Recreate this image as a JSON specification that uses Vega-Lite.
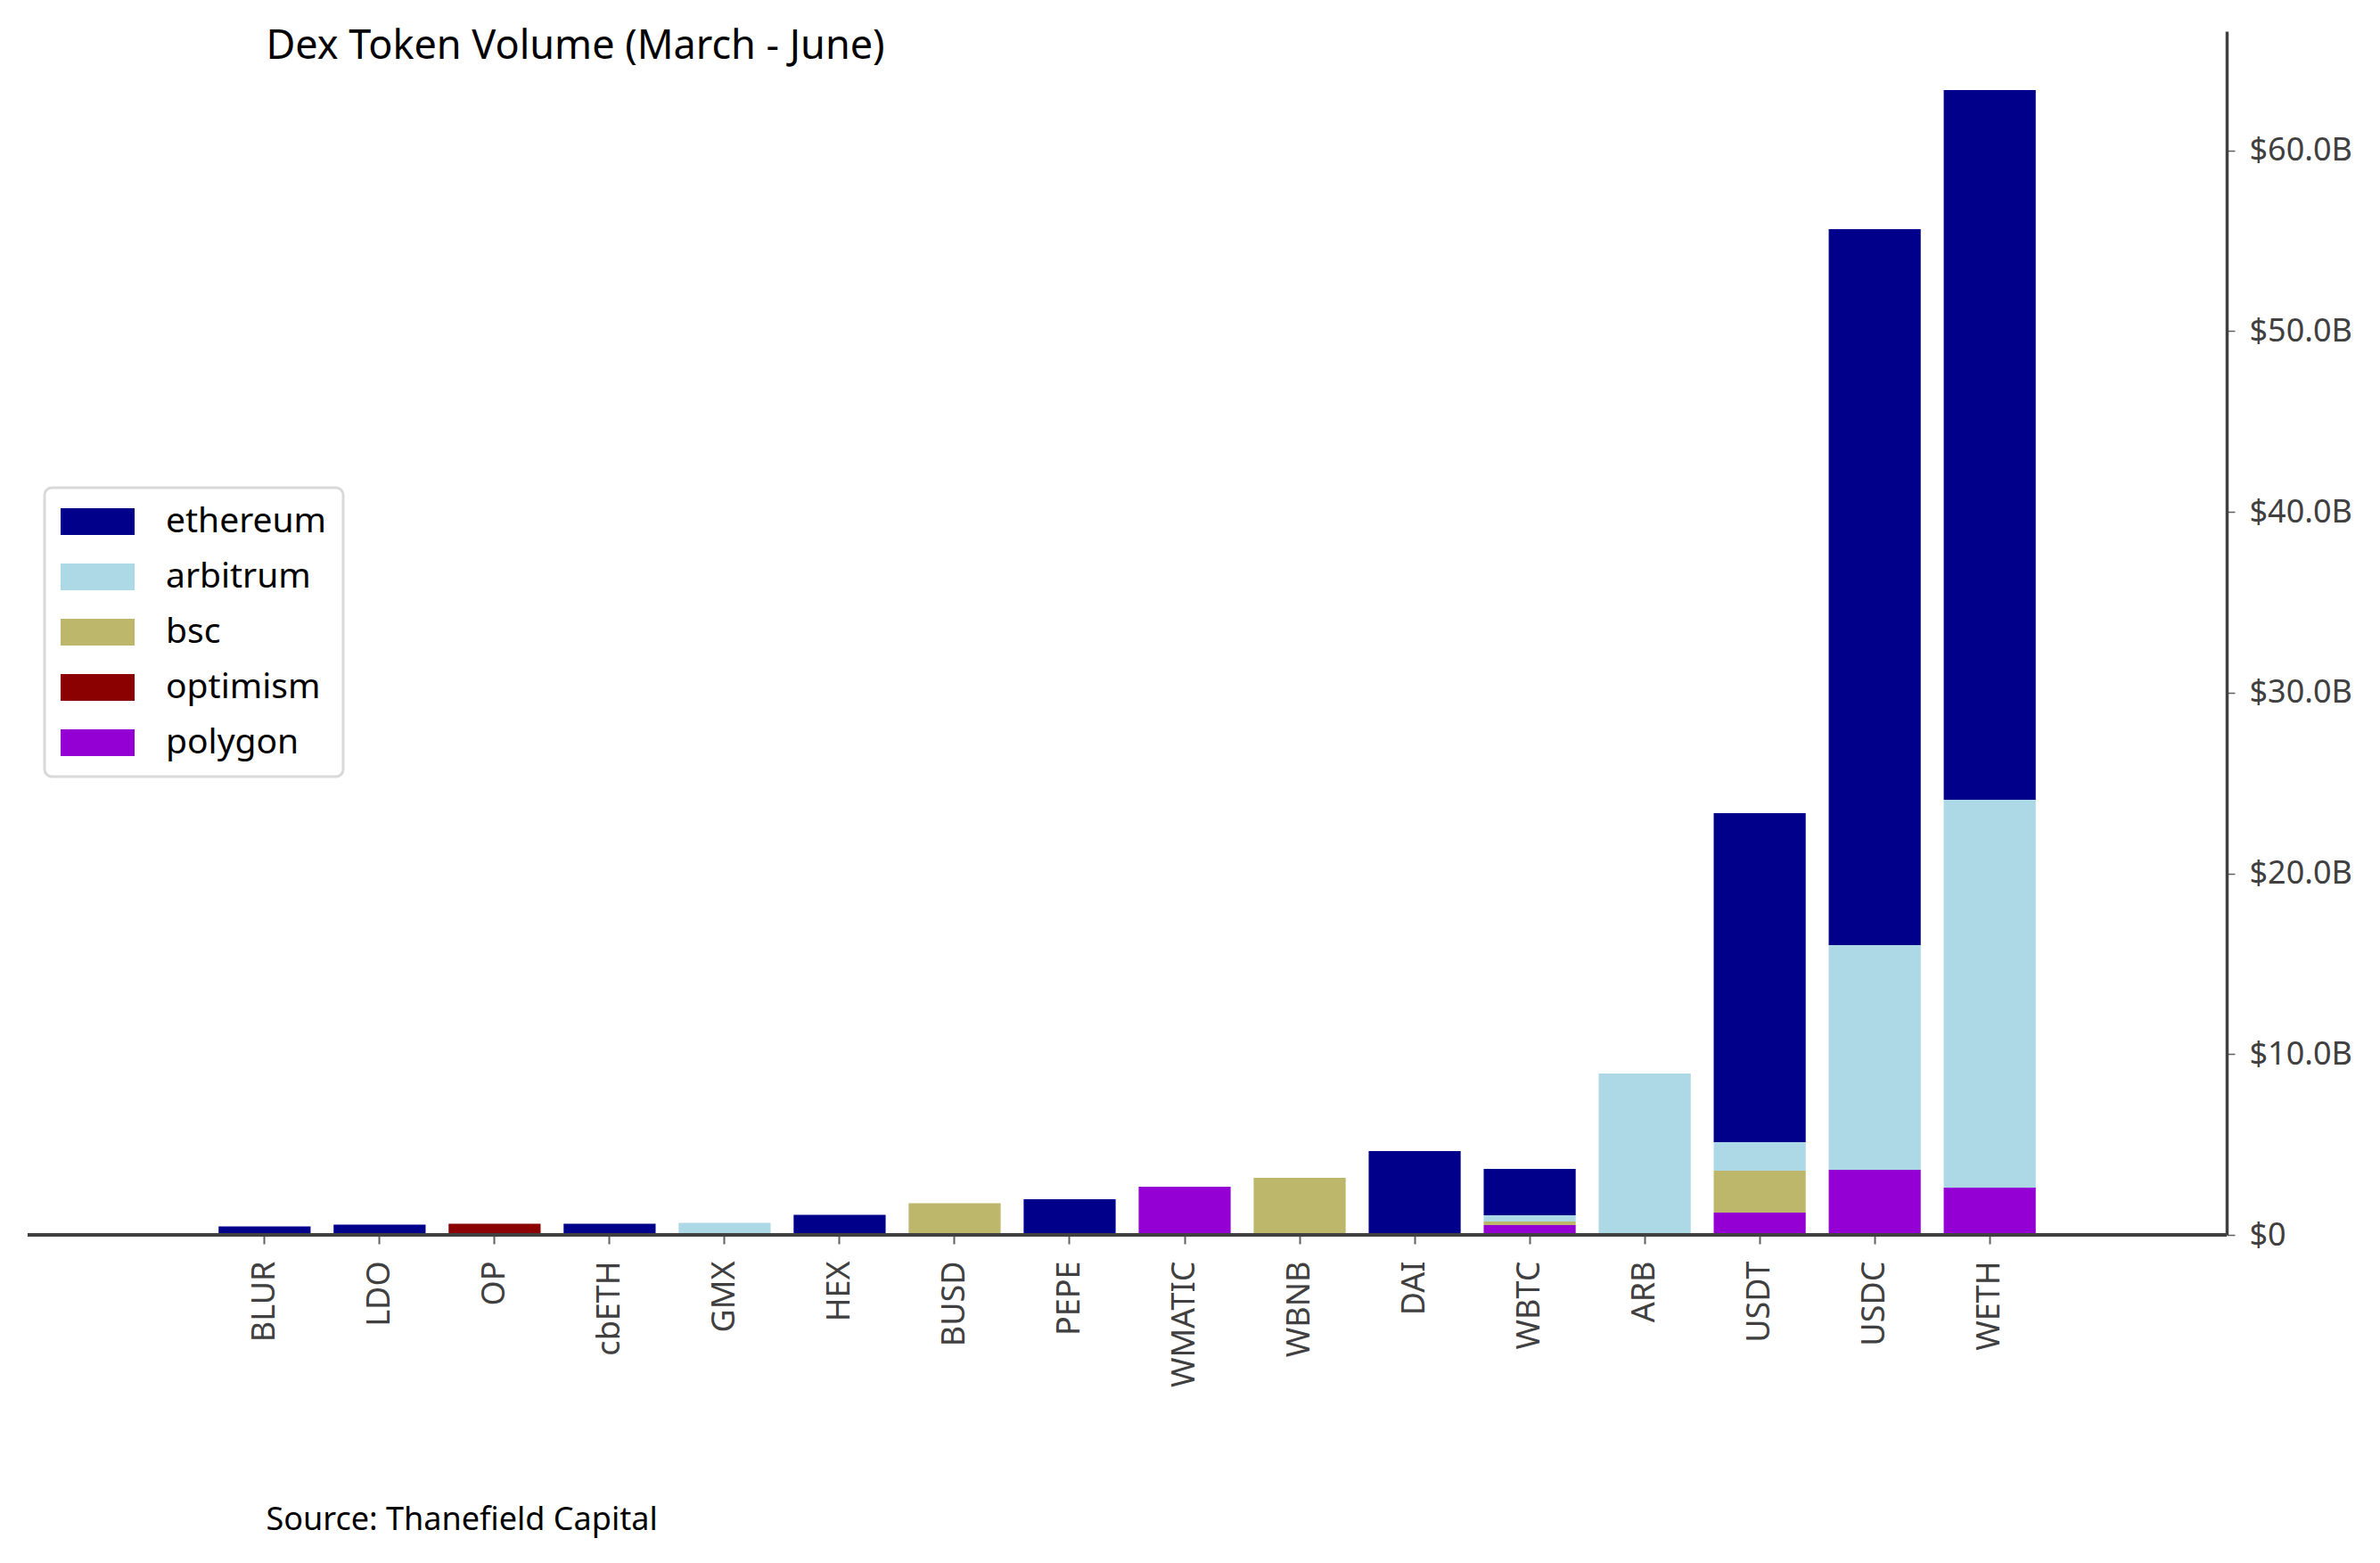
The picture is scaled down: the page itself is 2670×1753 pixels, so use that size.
{
  "$schema": "https://vega.github.io/schema/vega-lite/v6.json",
  "autosize": {"type": "none"},
  "width": 2467,
  "height": 1350,
  "padding": {"left": 31, "top": 35, "right": 172, "bottom": 368},
  "background": "white",
  "data": {
    "values": [
      {"token": "BLUR", "chain": "ethereum", "volume": 0.47},
      {"token": "LDO", "chain": "ethereum", "volume": 0.57},
      {"token": "OP", "chain": "optimism", "volume": 0.62},
      {"token": "cbETH", "chain": "ethereum", "volume": 0.62},
      {"token": "GMX", "chain": "arbitrum", "volume": 0.67},
      {"token": "HEX", "chain": "ethereum", "volume": 1.11},
      {"token": "BUSD", "chain": "bsc", "volume": 1.75},
      {"token": "PEPE", "chain": "ethereum", "volume": 1.97},
      {"token": "WMATIC", "chain": "polygon", "volume": 2.66},
      {"token": "WBNB", "chain": "bsc", "volume": 3.16},
      {"token": "DAI", "chain": "ethereum", "volume": 4.64},
      {"token": "WBTC", "chain": "polygon", "volume": 0.54},
      {"token": "WBTC", "chain": "bsc", "volume": 0.2},
      {"token": "WBTC", "chain": "arbitrum", "volume": 0.345},
      {"token": "WBTC", "chain": "ethereum", "volume": 2.565},
      {"token": "ARB", "chain": "arbitrum", "volume": 8.93},
      {"token": "USDT", "chain": "polygon", "volume": 1.23},
      {"token": "USDT", "chain": "bsc", "volume": 2.32},
      {"token": "USDT", "chain": "arbitrum", "volume": 1.58},
      {"token": "USDT", "chain": "ethereum", "volume": 18.2},
      {"token": "USDC", "chain": "polygon", "volume": 3.6},
      {"token": "USDC", "chain": "arbitrum", "volume": 12.43},
      {"token": "USDC", "chain": "ethereum", "volume": 39.62},
      {"token": "WETH", "chain": "polygon", "volume": 2.61},
      {"token": "WETH", "chain": "arbitrum", "volume": 21.46},
      {"token": "WETH", "chain": "ethereum", "volume": 39.27}
    ]
  },
  "layer": [
    {
      "transform": [
        {"calculate": "indexof(['polygon', 'optimism', 'bsc', 'arbitrum', 'ethereum'], datum.chain)", "as": "stackOrder"}
      ],
      "mark": {"type": "bar", "strokeWidth": 0},
      "encoding": {
        "x": {
          "field": "token",
          "type": "nominal",
          "sort": ["BLUR", "LDO", "OP", "cbETH", "GMX", "HEX", "BUSD", "PEPE", "WMATIC", "WBNB", "DAI", "WBTC", "ARB", "USDT", "USDC", "WETH"],
          "scale": {"paddingInner": 0.2, "paddingOuter": 1, "range": [85.2, 2381.8]},
          "axis": {
            "title": "Source: Thanefield Capital",
            "titleFont": "Noto Sans",
            "titleFontSize": 36,
            "titleFontWeight": "normal",
            "titleColor": "black",
            "titleAnchor": "start",
            "titleAlign": "left",
            "titleBaseline": "alphabetic",
            "titleX": 267,
            "titleY": 330,
            "labelAngle": -90,
            "labelFont": "Noto Sans",
            "labelFontSize": 36,
            "labelColor": "#404040",
            "labelPadding": 19,
            "tickSize": 10,
            "tickWidth": 2,
            "tickColor": "#606060",
            "domain": false,
            "grid": false
          }
        },
        "y": {
          "field": "volume",
          "type": "quantitative",
          "stack": "zero",
          "scale": {"domain": [0, 66.6], "nice": false, "zero": true},
          "axis": {
            "orient": "right",
            "title": "Dex Token Volume (March - June)",
            "titleFont": "Noto Sans",
            "titleFontSize": 45,
            "titleFontWeight": "normal",
            "titleColor": "black",
            "titleAngle": 0,
            "titleAnchor": "start",
            "titleAlign": "left",
            "titleBaseline": "alphabetic",
            "titleX": -2200,
            "titleY": 30,
            "values": [0, 10, 20, 30, 40, 50, 60],
            "labelExpr": "datum.value === 0 ? '$0' : '$' + format(datum.value, '.1f') + 'B'",
            "labelFont": "Noto Sans",
            "labelFontSize": 36,
            "labelColor": "#404040",
            "labelPadding": 16,
            "tickSize": 9,
            "tickWidth": 1.5,
            "tickColor": "#606060",
            "domainColor": "#404040",
            "domainWidth": 3.5,
            "grid": false
          }
        },
        "color": {
          "field": "chain",
          "type": "nominal",
          "scale": {
            "domain": ["ethereum", "arbitrum", "bsc", "optimism", "polygon"],
            "range": ["#00008b", "#add8e6", "#bdb76b", "#8b0000", "#9400d3"]
          },
          "legend": {
            "title": null,
            "orient": "none",
            "legendX": 19,
            "legendY": 512,
            "symbolType": "M-1,-0.36L1,-0.36L1,0.36L-1,0.36Z",
            "symbolSize": 6889,
            "symbolStrokeWidth": 0,
            "symbolOpacity": 1,
            "labelFont": "Noto Sans",
            "labelFontSize": 39,
            "labelColor": "black",
            "labelOffset": 35,
            "labelLimit": 500,
            "clipHeight": 40,
            "rowPadding": 22,
            "padding": 18,
            "strokeColor": "#d9d9d9",
            "cornerRadius": 8,
            "fillColor": "white",
            "encode": {
              "legend": {"update": {"strokeWidth": {"value": 3}}}
            }
          }
        },
        "order": {"field": "stackOrder", "type": "quantitative"}
      }
    },
    {
      "mark": {"type": "rule", "color": "#404040", "strokeWidth": 3.5},
      "encoding": {"y": {"datum": 0}}
    }
  ],
  "config": {
    "view": {"stroke": null},
    "font": "Noto Sans"
  }
}
